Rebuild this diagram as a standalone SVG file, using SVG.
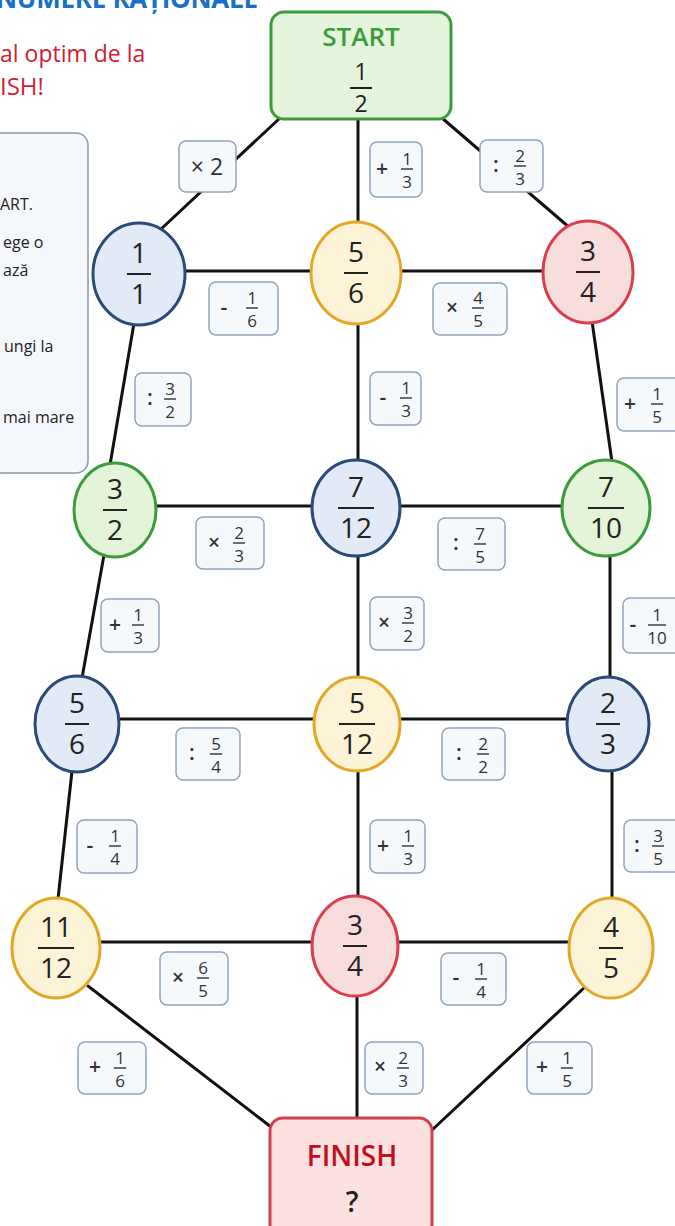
<svg xmlns="http://www.w3.org/2000/svg" width="675" height="1226" viewBox="0 0 675 1226">
<style>
.conn line{stroke:#111;stroke-width:3;stroke-linecap:round}
.node ellipse{stroke-width:3}
.blue ellipse{fill:#e1eaf6;stroke:#2b4a78}
.yellow ellipse{fill:#fdf3d6;stroke:#e2a828}
.red ellipse{fill:#f9dcdc;stroke:#d9404e}
.green ellipse{fill:#e3f4d9;stroke:#3c9b3c}
.nf{font-family:"Open Sans","Liberation Sans",sans-serif;font-size:28px;fill:#222;text-anchor:middle}
.bar{stroke:#222;stroke-width:2}
.lab rect{fill:#f6f9fc;stroke:#90a4bb;stroke-width:1.5}
.op{font-family:"Open Sans","Liberation Sans",sans-serif;font-size:21px;font-weight:600;fill:#333;text-anchor:middle}
.lf{font-family:"Open Sans","Liberation Sans",sans-serif;font-size:17px;fill:#333;text-anchor:middle}
.lbar{stroke:#333;stroke-width:1.4}
.side{font-family:"Open Sans","Liberation Sans",sans-serif;font-size:16px;fill:#222}
</style>

<!-- header fragments -->
<text x="-4" y="8" font-family="Open Sans, Liberation Sans, sans-serif" font-size="26" font-weight="bold" fill="#1a6fc8" textLength="262">NUMERE RAȚIONALE</text>
<text x="0" y="62" font-family="Open Sans, Liberation Sans, sans-serif" font-size="23" fill="#cc2233">al optim de la</text>
<text x="0" y="95" font-family="Open Sans, Liberation Sans, sans-serif" font-size="24" fill="#cc2233">ISH!</text>

<g id="instructions">
<rect x="-10" y="133" width="98" height="340" rx="12" fill="#f4f7fb" stroke="#8899aa" stroke-width="1.5"/>
<text class="side" x="0" y="210">ART.</text>
<text class="side" x="3" y="248">ege o</text>
<text class="side" x="3" y="276">ază</text>
<text class="side" x="4" y="352">ungi la</text>
<text class="side" x="3" y="423">mai mare</text>
</g>

<g id="connectors" class="conn">
<line x1="280" y1="118" x2="160" y2="230"/>
<line x1="358" y1="120" x2="358" y2="225"/>
<line x1="442" y1="118" x2="570" y2="228"/>
<line x1="185" y1="271" x2="312" y2="271"/>
<line x1="400" y1="271" x2="545" y2="271"/>
<line x1="134" y1="323" x2="110" y2="465"/>
<line x1="358" y1="323" x2="358" y2="462"/>
<line x1="592" y1="321" x2="612" y2="462"/>
<line x1="155" y1="506" x2="313" y2="506"/>
<line x1="399" y1="506" x2="563" y2="506"/>
<line x1="104" y1="555" x2="82" y2="678"/>
<line x1="358" y1="555" x2="358" y2="678"/>
<line x1="610" y1="555" x2="610" y2="678"/>
<line x1="119" y1="719" x2="315" y2="719"/>
<line x1="399" y1="719" x2="568" y2="719"/>
<line x1="72" y1="771" x2="58" y2="899"/>
<line x1="358" y1="770" x2="358" y2="897"/>
<line x1="612" y1="770" x2="612" y2="899"/>
<line x1="99" y1="942" x2="313" y2="942"/>
<line x1="397" y1="942" x2="570" y2="942"/>
<line x1="88" y1="986" x2="275" y2="1130"/>
<line x1="357" y1="995" x2="357" y2="1119"/>
<line x1="585" y1="987" x2="432" y2="1130"/>
</g>

<g id="start">
<rect x="271" y="12" width="180" height="107" rx="13" fill="#e5f5dc" stroke="#3c9b3c" stroke-width="3"/>
<text x="361" y="46" font-family="Open Sans, Liberation Sans, sans-serif" font-size="26" font-weight="600" fill="#3c9b3c" text-anchor="middle">START</text>
<text class="nf" x="361" y="80" style="font-size:23px">1</text>
<line class="bar" x1="350" y1="88" x2="372" y2="88"/>
<text class="nf" x="361" y="112" style="font-size:23px">2</text>
</g>

<g id="n1_1" class="node blue"><ellipse cx="139" cy="274" rx="46" ry="51"/>
<text class="nf" x="139" y="263">1</text><line class="bar" x1="127" y1="274" x2="151" y2="274"/><text class="nf" x="139" y="304">1</text></g>
<g id="n5_6a" class="node yellow"><ellipse cx="356" cy="273" rx="45" ry="51"/>
<text class="nf" x="356" y="262">5</text><line class="bar" x1="344" y1="273" x2="368" y2="273"/><text class="nf" x="356" y="303">6</text></g>
<g id="n3_4a" class="node red"><ellipse cx="588" cy="272" rx="45" ry="51"/>
<text class="nf" x="588" y="261">3</text><line class="bar" x1="576" y1="272" x2="600" y2="272"/><text class="nf" x="588" y="302">4</text></g>

<g id="n3_2" class="node green"><ellipse cx="115" cy="510" rx="41" ry="47"/>
<text class="nf" x="115" y="499">3</text><line class="bar" x1="103" y1="510" x2="127" y2="510"/><text class="nf" x="115" y="540">2</text></g>
<g id="n7_12" class="node blue"><ellipse cx="356" cy="508" rx="44" ry="48"/>
<text class="nf" x="356" y="497">7</text><line class="bar" x1="338" y1="508" x2="374" y2="508"/><text class="nf" x="356" y="538">12</text></g>
<g id="n7_10" class="node green"><ellipse cx="606" cy="508" rx="44" ry="48"/>
<text class="nf" x="606" y="497">7</text><line class="bar" x1="588" y1="508" x2="624" y2="508"/><text class="nf" x="606" y="538">10</text></g>

<g id="n5_6b" class="node blue"><ellipse cx="77" cy="724" rx="42" ry="48"/>
<text class="nf" x="77" y="713">5</text><line class="bar" x1="65" y1="724" x2="89" y2="724"/><text class="nf" x="77" y="754">6</text></g>
<g id="n5_12" class="node yellow"><ellipse cx="357" cy="724" rx="43" ry="47"/>
<text class="nf" x="357" y="713">5</text><line class="bar" x1="339" y1="724" x2="375" y2="724"/><text class="nf" x="357" y="754">12</text></g>
<g id="n2_3" class="node blue"><ellipse cx="608" cy="724" rx="41" ry="47"/>
<text class="nf" x="608" y="713">2</text><line class="bar" x1="596" y1="724" x2="620" y2="724"/><text class="nf" x="608" y="754">3</text></g>

<g id="n11_12" class="node yellow"><ellipse cx="56" cy="948" rx="44" ry="50"/>
<text class="nf" x="56" y="937">11</text><line class="bar" x1="38" y1="948" x2="74" y2="948"/><text class="nf" x="56" y="978">12</text></g>
<g id="n3_4b" class="node red"><ellipse cx="355" cy="946" rx="43" ry="50"/>
<text class="nf" x="355" y="935">3</text><line class="bar" x1="343" y1="946" x2="367" y2="946"/><text class="nf" x="355" y="976">4</text></g>
<g id="n4_5" class="node yellow"><ellipse cx="611" cy="948" rx="42" ry="50"/>
<text class="nf" x="611" y="937">4</text><line class="bar" x1="599" y1="948" x2="623" y2="948"/><text class="nf" x="611" y="978">5</text></g>

<g id="finish">
<rect x="270" y="1118" width="162" height="120" rx="13" fill="#fde0e0" stroke="#d04050" stroke-width="3"/>
<text x="352" y="1166" font-family="Open Sans, Liberation Sans, sans-serif" font-size="28" font-weight="600" fill="#c01020" text-anchor="middle">FINISH</text>
<text x="352" y="1212" font-family="Open Sans, Liberation Sans, sans-serif" font-size="28" font-weight="600" fill="#222" text-anchor="middle">?</text>
</g>

<!-- operation labels -->
<g id="l1" class="lab"><rect x="179" y="141" width="57" height="51" rx="7"/><text class="op" x="207" y="175" style="font-size:23px;font-weight:normal">× 2</text></g>
<g id="l2" class="lab"><rect x="370" y="142" width="52" height="55" rx="7"/><text class="op" x="382" y="176">+</text><text class="lf" x="407" y="165">1</text><line class="lbar" x1="401" y1="169" x2="413" y2="169"/><text class="lf" x="407" y="188">3</text></g>
<g id="l3" class="lab"><rect x="480" y="140" width="63" height="52" rx="7"/><text class="op" x="496" y="172">:</text><text class="lf" x="520" y="162">2</text><line class="lbar" x1="514" y1="166" x2="526" y2="166"/><text class="lf" x="520" y="185">3</text></g>
<g id="l4" class="lab"><rect x="209" y="282" width="69" height="53" rx="7"/><text class="op" x="224" y="315">-</text><text class="lf" x="252" y="304">1</text><line class="lbar" x1="246" y1="308" x2="258" y2="308"/><text class="lf" x="252" y="327">6</text></g>
<g id="l5" class="lab"><rect x="433" y="283" width="74" height="52" rx="7"/><text class="op" x="452" y="315">×</text><text class="lf" x="478" y="304">4</text><line class="lbar" x1="472" y1="308" x2="484" y2="308"/><text class="lf" x="478" y="327">5</text></g>
<g id="l6" class="lab"><rect x="135" y="373" width="56" height="53" rx="7"/><text class="op" x="150" y="405">:</text><text class="lf" x="170" y="395">3</text><line class="lbar" x1="164" y1="399" x2="176" y2="399"/><text class="lf" x="170" y="418">2</text></g>
<g id="l7" class="lab"><rect x="370" y="372" width="51" height="53" rx="7"/><text class="op" x="383" y="405">-</text><text class="lf" x="406" y="394">1</text><line class="lbar" x1="400" y1="398" x2="412" y2="398"/><text class="lf" x="406" y="417">3</text></g>
<g id="l8" class="lab"><rect x="617" y="378" width="66" height="53" rx="7"/><text class="op" x="630" y="411">+</text><text class="lf" x="657" y="400">1</text><line class="lbar" x1="651" y1="404" x2="663" y2="404"/><text class="lf" x="657" y="423">5</text></g>
<g id="l9" class="lab"><rect x="196" y="517" width="68" height="52" rx="7"/><text class="op" x="214" y="550">×</text><text class="lf" x="239" y="539">2</text><line class="lbar" x1="233" y1="543" x2="245" y2="543"/><text class="lf" x="239" y="562">3</text></g>
<g id="l10" class="lab"><rect x="438" y="518" width="67" height="52" rx="7"/><text class="op" x="456" y="550">:</text><text class="lf" x="480" y="540">7</text><line class="lbar" x1="474" y1="544" x2="486" y2="544"/><text class="lf" x="480" y="563">5</text></g>
<g id="l11" class="lab"><rect x="101" y="599" width="58" height="53" rx="7"/><text class="op" x="115" y="632">+</text><text class="lf" x="138" y="621">1</text><line class="lbar" x1="132" y1="625" x2="144" y2="625"/><text class="lf" x="138" y="644">3</text></g>
<g id="l12" class="lab"><rect x="370" y="597" width="54" height="53" rx="7"/><text class="op" x="384" y="630">×</text><text class="lf" x="408" y="619">3</text><line class="lbar" x1="402" y1="623" x2="414" y2="623"/><text class="lf" x="408" y="642">2</text></g>
<g id="l13" class="lab"><rect x="623" y="598" width="60" height="55" rx="7"/><text class="op" x="633" y="632">-</text><text class="lf" x="657" y="621">1</text><line class="lbar" x1="648" y1="625" x2="666" y2="625"/><text class="lf" x="657" y="644">10</text></g>
<g id="l14" class="lab"><rect x="176" y="728" width="64" height="52" rx="7"/><text class="op" x="192" y="760">:</text><text class="lf" x="216" y="750">5</text><line class="lbar" x1="210" y1="754" x2="222" y2="754"/><text class="lf" x="216" y="773">4</text></g>
<g id="l15" class="lab"><rect x="442" y="728" width="63" height="52" rx="7"/><text class="op" x="459" y="760">:</text><text class="lf" x="483" y="750">2</text><line class="lbar" x1="477" y1="754" x2="489" y2="754"/><text class="lf" x="483" y="773">2</text></g>
<g id="l16" class="lab"><rect x="77" y="820" width="60" height="53" rx="7"/><text class="op" x="90" y="853">-</text><text class="lf" x="115" y="842">1</text><line class="lbar" x1="109" y1="846" x2="121" y2="846"/><text class="lf" x="115" y="865">4</text></g>
<g id="l17" class="lab"><rect x="370" y="820" width="55" height="53" rx="7"/><text class="op" x="383" y="853">+</text><text class="lf" x="408" y="842">1</text><line class="lbar" x1="402" y1="846" x2="414" y2="846"/><text class="lf" x="408" y="865">3</text></g>
<g id="l18" class="lab"><rect x="624" y="820" width="60" height="52" rx="7"/><text class="op" x="637" y="852">:</text><text class="lf" x="658" y="842">3</text><line class="lbar" x1="652" y1="846" x2="664" y2="846"/><text class="lf" x="658" y="865">5</text></g>
<g id="l19" class="lab"><rect x="160" y="952" width="68" height="53" rx="7"/><text class="op" x="178" y="985">×</text><text class="lf" x="203" y="974">6</text><line class="lbar" x1="197" y1="978" x2="209" y2="978"/><text class="lf" x="203" y="997">5</text></g>
<g id="l20" class="lab"><rect x="441" y="953" width="65" height="52" rx="7"/><text class="op" x="456" y="985">-</text><text class="lf" x="481" y="975">1</text><line class="lbar" x1="475" y1="979" x2="487" y2="979"/><text class="lf" x="481" y="998">4</text></g>
<g id="l21" class="lab"><rect x="78" y="1042" width="68" height="52" rx="7"/><text class="op" x="95" y="1074">+</text><text class="lf" x="120" y="1064">1</text><line class="lbar" x1="114" y1="1068" x2="126" y2="1068"/><text class="lf" x="120" y="1087">6</text></g>
<g id="l22" class="lab"><rect x="365" y="1042" width="58" height="52" rx="7"/><text class="op" x="380" y="1074">×</text><text class="lf" x="403" y="1064">2</text><line class="lbar" x1="397" y1="1068" x2="409" y2="1068"/><text class="lf" x="403" y="1087">3</text></g>
<g id="l23" class="lab"><rect x="527" y="1042" width="65" height="52" rx="7"/><text class="op" x="542" y="1074">+</text><text class="lf" x="567" y="1064">1</text><line class="lbar" x1="561" y1="1068" x2="573" y2="1068"/><text class="lf" x="567" y="1087">5</text></g>
</svg>
